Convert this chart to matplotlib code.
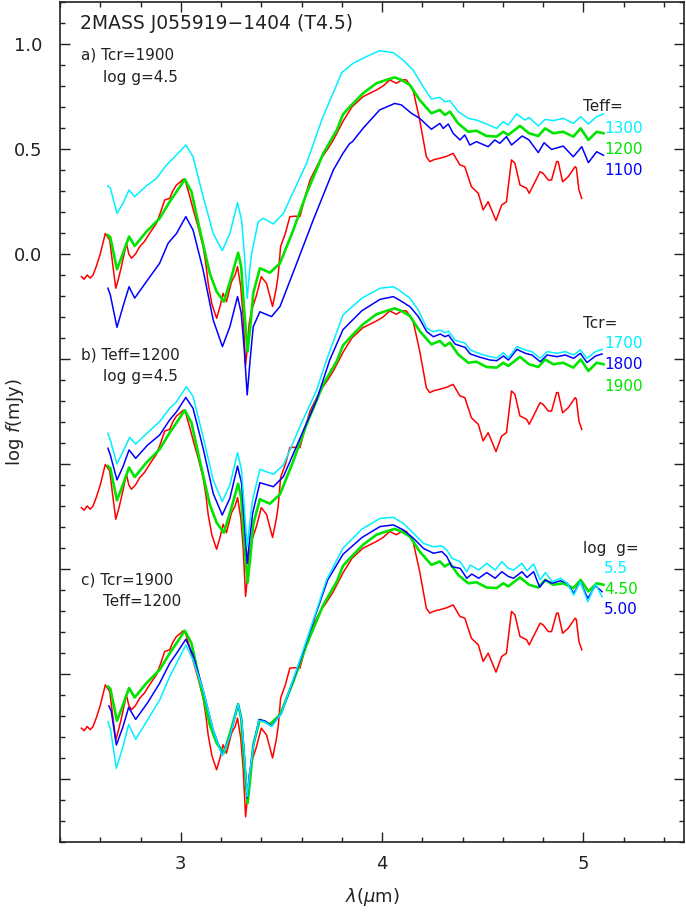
import matplotlib
matplotlib.use("Agg")
import matplotlib.pyplot as plt
from matplotlib.ticker import MultipleLocator, FixedLocator

plt.rcParams['font.family'] = ['DejaVu Sans']

# ---------------- data (unshifted log f, mJy) ----------------
observed = [(2.506,-0.108),(2.52,-0.12),(2.535,-0.10),(2.55,-0.115),(2.564,-0.10),(2.58,-0.06),(2.60,0.0),
    (2.625,0.098),(2.647,0.067),(2.662,-0.05),(2.677,-0.163),(2.69,-0.12),(2.705,-0.06),(2.73,0.05),(2.742,0.0),
    (2.755,-0.02),(2.775,0.0),(2.796,0.035),(2.82,0.06),(2.846,0.10),(2.879,0.146),(2.90,0.20),(2.92,0.257),
    (2.945,0.265),(2.96,0.30),(2.979,0.329),(3.0,0.345),(3.012,0.356),(3.025,0.34),(3.045,0.273),(3.065,0.20),
    (3.086,0.13),(3.111,0.035),(3.125,-0.05),(3.136,-0.14),(3.155,-0.24),(3.178,-0.306),(3.195,-0.25),
    (3.21,-0.187),(3.227,-0.227),(3.252,-0.132),(3.27,-0.10),(3.282,-0.06),(3.298,-0.156),(3.31,-0.30),
    (3.322,-0.53),(3.33,-0.45),(3.34,-0.33),(3.352,-0.267),(3.375,-0.20),(3.40,-0.108),(3.426,-0.14),
    (3.456,-0.25),(3.475,-0.16),(3.484,-0.10),(3.496,0.035),(3.52,0.10),(3.542,0.178),(3.57,0.18),(3.592,0.178),
    (3.62,0.28),(3.642,0.352),(3.692,0.448),(3.73,0.50),(3.758,0.543),(3.808,0.635),(3.85,0.70),(3.905,0.749),
    (3.972,0.781),(4.005,0.80),(4.038,0.829),(4.071,0.813),(4.10,0.83),(4.121,0.829),(4.154,0.781),(4.187,0.638),
    (4.22,0.463),(4.237,0.44),(4.26,0.45),(4.287,0.456),(4.32,0.465),(4.353,0.479),(4.387,0.424),(4.411,0.416),
    (4.444,0.32),(4.478,0.289),(4.502,0.21),(4.527,0.249),(4.544,0.21),(4.566,0.159),(4.594,0.233),(4.618,0.249),
    (4.643,0.448),(4.66,0.432),(4.685,0.329),(4.718,0.313),(4.731,0.289),(4.76,0.344),(4.785,0.392),(4.80,0.384),
    (4.826,0.352),(4.842,0.352),(4.867,0.44),(4.875,0.44),(4.897,0.344),(4.925,0.368),(4.959,0.416),(4.965,0.41),
    (4.978,0.305),(4.992,0.265)]

# Teff=1200, Tcr=1900, log g=4.5 (green, shown in all three panels)
model_1200 = [(2.638,0.09),(2.65,0.08),(2.683,-0.073),(2.713,0.003),(2.743,0.083),(2.771,0.038),(2.829,0.106),
    (2.895,0.17),(2.945,0.249),(2.979,0.297),(3.02,0.356),(3.053,0.297),(3.095,0.114),(3.144,-0.092),
    (3.178,-0.179),(3.214,-0.227),(3.252,-0.108),(3.285,0.006),(3.30,-0.06),(3.316,-0.28),(3.332,-0.465),
    (3.347,-0.33),(3.36,-0.187),(3.393,-0.068),(3.443,-0.089),(3.493,-0.044),(3.559,0.114),(3.625,0.289),
    (3.708,0.479),(3.775,0.59),(3.806,0.665),(3.839,0.70),(3.905,0.765),(3.972,0.813),(4.021,0.829),
    (4.063,0.841),(4.096,0.829),(4.138,0.805),(4.187,0.733),(4.245,0.67),(4.287,0.686),(4.312,0.662),
    (4.337,0.678),(4.378,0.622),(4.428,0.582),(4.469,0.587),(4.519,0.562),(4.569,0.559),(4.602,0.582),
    (4.627,0.567),(4.685,0.61),(4.73,0.575),(4.776,0.562),(4.81,0.598),(4.85,0.575),(4.90,0.582),(4.95,0.559),
    (4.987,0.598),(5.025,0.543),(5.066,0.582),(5.10,0.575)]

# panel a: Teff = 1300 (cyan), 1100 (blue)
model_a_1300 = [(2.638,0.324),(2.65,0.315),(2.683,0.194),(2.713,0.241),(2.743,0.305),(2.771,0.273),(2.829,0.324),
    (2.879,0.36),(2.929,0.424),(2.97,0.463),(3.025,0.519),(3.061,0.463),(3.111,0.273),(3.161,0.098),(3.206,0.016),
    (3.244,0.098),(3.282,0.244),(3.302,0.162),(3.316,0.0),(3.33,-0.211),(3.342,-0.08),(3.352,0.003),(3.385,0.154),
    (3.41,0.17),(3.46,0.143),(3.51,0.194),(3.625,0.432),(3.70,0.638),(3.80,0.864),(3.856,0.908),(3.922,0.94),
    (3.988,0.968),(4.055,0.959),(4.104,0.924),(4.154,0.876),(4.204,0.797),(4.245,0.738),(4.287,0.746),
    (4.312,0.725),(4.337,0.73),(4.378,0.678),(4.428,0.646),(4.469,0.638),(4.519,0.619),(4.569,0.598),(4.602,0.63),
    (4.627,0.614),(4.668,0.667),(4.71,0.638),(4.73,0.65),(4.776,0.61),(4.81,0.641),(4.85,0.635),(4.90,0.646),
    (4.95,0.622),(4.987,0.654),(5.025,0.619),(5.066,0.654),(5.10,0.667)]
model_a_1100 = [(2.638,-0.163),(2.65,-0.195),(2.683,-0.349),(2.713,-0.25),(2.743,-0.156),(2.771,-0.21),
    (2.829,-0.132),(2.895,-0.044),(2.937,0.051),(2.979,0.098),(3.025,0.178),(3.061,0.114),(3.111,-0.076),
    (3.161,-0.314),(3.207,-0.441),(3.244,-0.346),(3.282,-0.203),(3.30,-0.28),(3.315,-0.45),(3.33,-0.671),
    (3.345,-0.50),(3.36,-0.346),(3.393,-0.275),(3.451,-0.298),(3.493,-0.25),(3.576,-0.044),(3.658,0.162),
    (3.758,0.40),(3.806,0.48),(3.839,0.526),(3.853,0.535),(3.905,0.598),(3.988,0.686),(4.063,0.717),(4.096,0.71),
    (4.146,0.67),(4.187,0.646),(4.245,0.594),(4.287,0.622),(4.304,0.598),(4.329,0.619),(4.353,0.575),
    (4.387,0.543),(4.411,0.567),(4.436,0.519),(4.469,0.535),(4.527,0.511),(4.56,0.543),(4.585,0.527),
    (4.618,0.559),(4.643,0.519),(4.696,0.562),(4.73,0.543),(4.776,0.483),(4.805,0.53),(4.842,0.498),(4.90,0.514),
    (4.95,0.463),(4.992,0.511),(5.025,0.435),(5.066,0.487),(5.10,0.47)]

# panel b: Tcr = 1700 (cyan), 1800 (blue)
model_b_1700 = [(2.638,0.246),(2.65,0.214),(2.683,0.10),(2.713,0.159),(2.746,0.227),(2.776,0.195),(2.835,0.249),
    (2.895,0.302),(2.945,0.365),(2.979,0.397),(3.028,0.468),(3.061,0.421),(3.111,0.23),(3.161,0.024),
    (3.206,-0.079),(3.244,0.0),(3.282,0.154),(3.302,0.071),(3.315,-0.10),(3.33,-0.294),(3.343,-0.18),
    (3.357,-0.071),(3.393,0.075),(3.46,0.051),(3.51,0.095),(3.592,0.278),(3.675,0.452),(3.724,0.595),(3.806,0.81),
    (3.90,0.89),(3.99,0.937),(4.056,0.944),(4.089,0.925),(4.139,0.889),(4.18,0.833),(4.222,0.746),(4.255,0.73),
    (4.289,0.738),(4.313,0.725),(4.33,0.733),(4.363,0.69),(4.413,0.675),(4.438,0.643),(4.488,0.624),(4.537,0.611),
    (4.57,0.605),(4.603,0.63),(4.628,0.605),(4.67,0.659),(4.712,0.643),(4.745,0.635),(4.786,0.603),(4.82,0.635),
    (4.869,0.627),(4.91,0.635),(4.952,0.619),(4.985,0.643),(5.018,0.603),(5.06,0.635),(5.093,0.646)]
model_b_1800 = [(2.638,0.175),(2.65,0.143),(2.683,0.024),(2.713,0.087),(2.743,0.167),(2.776,0.127),(2.835,0.19),
    (2.895,0.238),(2.945,0.31),(2.979,0.349),(3.025,0.417),(3.061,0.365),(3.111,0.175),(3.161,-0.04),
    (3.206,-0.143),(3.244,-0.063),(3.282,0.09),(3.302,0.008),(3.315,-0.17),(3.33,-0.373),(3.343,-0.25),
    (3.357,-0.135),(3.393,0.011),(3.46,-0.008),(3.51,0.04),(3.592,0.222),(3.675,0.405),(3.74,0.595),(3.806,0.74),
    (3.90,0.83),(3.99,0.884),(4.056,0.897),(4.089,0.879),(4.139,0.849),(4.18,0.802),(4.222,0.73),(4.255,0.706),
    (4.289,0.719),(4.313,0.706),(4.33,0.714),(4.363,0.671),(4.413,0.655),(4.438,0.624),(4.488,0.608),
    (4.537,0.595),(4.57,0.592),(4.603,0.614),(4.628,0.595),(4.67,0.646),(4.712,0.627),(4.745,0.619),
    (4.786,0.587),(4.82,0.619),(4.869,0.611),(4.91,0.619),(4.952,0.603),(4.985,0.627),(5.018,0.583),
    (5.06,0.614),(5.093,0.624)]

# panel c: log g = 5.5 (cyan), 5.00 (blue)
model_c_55 = [(2.638,-0.077),(2.65,-0.109),(2.68,-0.299),(2.713,-0.196),(2.741,-0.09),(2.776,-0.161),
    (2.835,-0.069),(2.895,0.026),(2.945,0.137),(2.979,0.201),(3.025,0.288),(3.061,0.217),(3.111,0.074),
    (3.161,-0.117),(3.206,-0.24),(3.244,-0.148),(3.285,0.007),(3.302,-0.069),(3.315,-0.22),(3.33,-0.434),
    (3.343,-0.32),(3.36,-0.196),(3.388,-0.072),(3.418,-0.078),(3.451,-0.101),(3.50,-0.037),(3.592,0.217),
    (3.675,0.455),(3.724,0.598),(3.806,0.75),(3.90,0.84),(3.99,0.891),(4.056,0.896),(4.106,0.867),(4.156,0.82),
    (4.206,0.772),(4.255,0.756),(4.297,0.76),(4.322,0.74),(4.347,0.701),(4.388,0.685),(4.421,0.637),
    (4.438,0.669),(4.48,0.645),(4.52,0.677),(4.562,0.645),(4.595,0.685),(4.628,0.653),(4.653,0.645),
    (4.695,0.677),(4.72,0.642),(4.753,0.674),(4.786,0.598),(4.811,0.633),(4.845,0.59),(4.886,0.606),
    (4.92,0.582),(4.952,0.526),(4.985,0.59),(5.022,0.494),(5.06,0.578),(5.093,0.518)]
model_c_50 = [(2.643,-0.002),(2.655,-0.029),(2.68,-0.188),(2.713,-0.101),(2.741,-0.009),(2.776,-0.066),
    (2.835,0.013),(2.895,0.106),(2.945,0.201),(2.979,0.248),(3.025,0.315),(3.061,0.24),(3.111,0.074),
    (3.161,-0.117),(3.206,-0.235),(3.244,-0.148),(3.285,0.007),(3.302,-0.069),(3.315,-0.22),(3.33,-0.44),
    (3.343,-0.32),(3.36,-0.196),(3.388,-0.068),(3.418,-0.073),(3.451,-0.098),(3.50,-0.037),(3.592,0.21),
    (3.675,0.447),(3.73,0.598),(3.806,0.72),(3.90,0.80),(3.99,0.852),(4.056,0.86),(4.106,0.836),(4.156,0.796),
    (4.206,0.748),(4.255,0.725),(4.297,0.733),(4.322,0.709),(4.347,0.661),(4.388,0.653),(4.421,0.606),
    (4.446,0.626),(4.48,0.606),(4.52,0.633),(4.562,0.606),(4.595,0.637),(4.628,0.614),(4.653,0.606),
    (4.695,0.637),(4.72,0.61),(4.753,0.637),(4.783,0.563),(4.811,0.598),(4.845,0.582),(4.886,0.594),
    (4.92,0.582),(4.952,0.534),(4.985,0.59),(5.022,0.51),(5.06,0.57),(5.093,0.542)]

panel_offsets = [0.0, -1.1, -2.15]
panel_models = [
    [(model_1200, 'green'), (model_a_1100, 'blue'), (model_a_1300, 'cyan')],
    [(model_1200, 'green'), (model_b_1800, 'blue'), (model_b_1700, 'cyan')],
    [(model_1200, 'green'), (model_c_50, 'blue'), (model_c_55, 'cyan')],
]
panel_labels = [("a) Tcr=1900", "log g=4.5"), ("b) Teff=1200", "log g=4.5"), ("c) Tcr=1900", "Teff=1200")]
key_titles = ["Teff=", "Tcr=", "log  g="]
key_entries = [[("1300", 'cyan'), ("1200", 'green'), ("1100", 'blue')],
               [("1700", 'cyan'), ("1800", 'blue'), ("1900", 'green')],
               [("5.5", 'cyan'), ("4.50", 'green'), ("5.00", 'blue')]]
title = "2MASS J055919\u22121404 (T4.5)"
y_tick_labels = {0.0: "0.0", 0.5: "0.5", 1.0: "1.0"}

colors = {'red': '#ff0000', 'green': '#00e400', 'blue': '#0000ff', 'cyan': '#00f0ff'}
widths = {'red': 1.1, 'green': 1.9, 'blue': 1.1, 'cyan': 1.1}

# ---------------- figure ----------------
W, H = 686, 913
fig = plt.figure(figsize=(W / 100, H / 100), dpi=100)
L, R, T, B = 60, 684, 2, 842
ax = fig.add_axes([L / W, (H - B) / H, (R - L) / W, (B - T) / H])

def unzip(pairs):
    return [p[0] for p in pairs], [p[1] for p in pairs]

ow, of = unzip(observed)
for k, off in enumerate(panel_offsets):
    ax.plot(ow, [v + off for v in of], color=colors['red'], lw=widths['red'], zorder=2)
    for model, c in panel_models[k]:
        mw, mf = unzip(model)
        ax.plot(mw, [v + off for v in mf], color=colors[c], lw=widths[c], zorder=3,
                solid_joinstyle='round')

ax.set_xlim(2.4, 5.5)
ax.set_ylim(-2.8, 1.2)

ax.xaxis.set_major_locator(FixedLocator([3, 4, 5]))
ax.xaxis.set_minor_locator(MultipleLocator(0.2))
ax.yaxis.set_major_locator(MultipleLocator(0.5))
ax.yaxis.set_minor_locator(MultipleLocator(0.1))
ax.yaxis.set_major_formatter(plt.FuncFormatter(
    lambda v, p: y_tick_labels.get(round(v, 2), "")))
ax.tick_params(which='both', direction='in', top=True, right=True, colors='#222222',
               labelcolor='#222222', labelsize=13, width=1.0)
ax.tick_params(which='major', length=7.5)
ax.tick_params(which='minor', length=3.8)
ax.tick_params(axis='x', pad=9)
ax.tick_params(axis='y', pad=13)
for s in ax.spines.values():
    s.set_linewidth(1.2)
    s.set_color('#222222')

ax.set_xlabel(r"$\lambda(\mu$m)", fontsize=13, color='#222222', labelpad=10)
fig.text(15 / W, (H - 422) / H, r"log $\mathit{f}$(mJy)", rotation=90, ha='center', va='center',
         fontsize=13, color='#222222')

def axf(px, py):
    return (px - L) / (R - L), (B - py) / (B - T)

ax.text(*axf(80, 23), title, transform=ax.transAxes, fontsize=13.5, va='center', ha='left', color='#222222')

label_rows = [(55, 77), (355, 376), (580, 601)]
for (l1, l2), (y1, y2) in zip(panel_labels, label_rows):
    ax.text(*axf(81, y1), l1, transform=ax.transAxes, fontsize=11, va='center', ha='left', color='#222222')
    ax.text(*axf(103, y2), l2, transform=ax.transAxes, fontsize=11, va='center', ha='left', color='#222222')

key_rows = [(106, [128, 149, 170]), (323, [343, 364, 386]), (548, [568, 589, 610])]
for ttl, entries, (ty, eys) in zip(key_titles, key_entries, key_rows):
    ax.text(*axf(583, ty), ttl, transform=ax.transAxes, fontsize=11, va='center', ha='left', color='#222222')
    for (txt, c), ey in zip(entries, eys):
        ax.text(*axf(604, ey), txt, transform=ax.transAxes, fontsize=11, va='center', ha='left',
                color=colors[c])

fig.savefig("out.png", dpi=100)
